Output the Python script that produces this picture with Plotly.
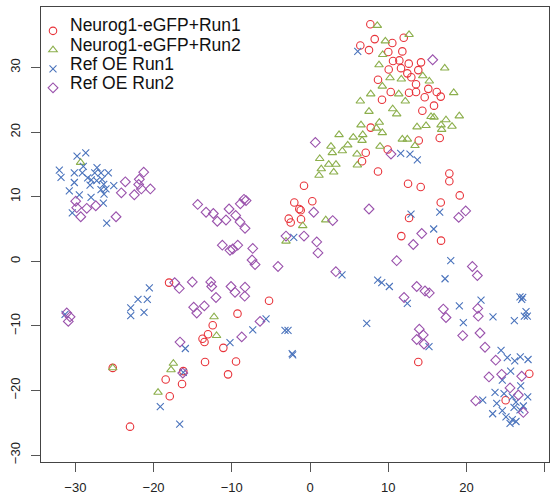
import plotly.graph_objects as go

# ---- data ----
series_names = ["Neurog1-eGFP+Run1", "Neurog1-eGFP+Run2", "Ref OE Run1", "Ref OE Run2"]

red_x = [7.71, 8.27, 6.43, 7.54, 10.52, 11.98, 10.01, 11.80, 10.61, 11.42, 12.62, 14.19, 10.06, 11.63, 13.84,
         12.44, 12.95, 8.69, 13.55, 10.32, 12.66, 13.55, 15.12, 16.20, 16.71, 14.66, 9.20, 15.85, 14.36, 7.76,
         16.58, 13.90, 9.93, 7.12, 6.65, 8.69, 17.81, 17.81, -0.77, 12.53, 14.15, 19.14, -2.01, 0.29, -1.37,
         -1.19, 16.71, -1.15, -2.72, -2.47, 12.66, 11.67, 16.75, -18.02, -5.24, -9.27, -12.44, -13.04, -13.74,
         -13.49, -11.08, -13.42, -9.46, -16.20, -10.48, -18.45, -16.36, -17.93, -23.01, -25.22, 13.84, 28.03, 25.01]
red_y = [36.7, 34.4, 33.4, 32.7, 33.8, 34.6, 32.4, 32.5, 31.0, 31.1, 30.6, 30.8, 29.7, 29.9, 29.6,
         29.1, 28.5, 28.1, 27.4, 26.2, 26.1, 26.2, 26.7, 26.2, 25.5, 25.4, 25.0, 24.1, 23.3, 20.7,
         19.1, 18.7, 17.3, 16.8, 15.5, 13.9, 13.6, 12.4, 11.7, 12.0, 11.5, 10.2, 9.1, 9.3, 8.1,
         7.9, 9.1, 6.5, 6.6, 6.0, 6.7, 3.9, 3.2, -3.3, -6.1, -8.1, -9.9, -11.3, -12.0,
         -12.5, -13.4, -15.6, -15.5, -17.0, -17.5, -18.3, -19.0, -20.9, -25.6, -16.5, -15.6, -17.4, -21.5]

green_x = [8.60, 9.63, 12.66, 9.29, 8.82, 17.22, 14.41, 10.23, 11.67, 15.25, 9.24, 7.76, 11.34, 18.37, 6.43,
           12.18, 10.57, 7.54, 11.08, 15.47, 15.85, 19.08, 17.38, 16.75, 14.83, 13.68, 18.15, 6.52, 8.86, 8.48,
           9.24, 16.83, 3.71, 5.53, 6.74, 6.65, 2.68, 4.82, 8.95, 11.80, 12.44, 13.42, 2.85, 4.13, 1.24,
           6.01, 2.39, 3.32, 1.44, 3.03, 1.15, 6.05, 2.01, -0.93, -3.07, -29.33, -12.27, -11.95, -17.47,
           -17.77, -19.43, -25.22]
green_y = [36.5, 34.1, 35.1, 32.0, 30.4, 29.9, 28.7, 28.4, 28.2, 27.9, 27.1, 25.9, 25.9, 26.1, 24.8,
           24.8, 23.6, 23.2, 22.8, 22.4, 22.3, 22.5, 21.9, 21.1, 21.0, 20.8, 20.9, 21.1, 21.5, 20.6,
           19.9, 20.4, 19.6, 19.2, 19.6, 18.7, 17.8, 18.0, 17.8, 18.9, 18.9, 17.9, 16.8, 17.1, 15.9,
           16.6, 15.0, 15.0, 14.3, 13.8, 13.3, 14.9, 6.4, 5.5, 3.1, 15.3, -8.6, -11.5, -15.8,
           -16.8, -20.3, -16.5]

blue_x = [6.10, 11.59, 12.78, 13.72, 12.91, 16.58, 15.81, -2.08, 17.99,
          -29.78, -28.67, -32.05, -31.83, -30.13, -28.98, -29.11, -27.23, -27.52, -26.72, -25.78, -28.42, -27.96,
          -27.27, -26.59, -30.13, -28.12, -26.37, -25.09, -26.72, -26.08, -30.77, -29.49, -26.33, -27.99, -26.42,
          -30.39, -25.99, -31.32,
          -20.54, -21.99, -20.80, -22.92, -22.92, -21.22, -5.62, -7.32, -3.20, -2.81, -10.23, -15.94, -2.21,
          -2.28, -16.20, -19.14, -16.66,
          4.09, 8.65, 9.17, 10.14, 17.26, 12.44, 7.25, 15.21, 19.09, 21.86, 19.60, 23.39, 26.12, 26.84, 27.06,
          27.19, 27.61, 27.78, 27.40, 24.42, 25.22, 26.17, 26.88, 27.87, 25.65, 24.58, 26.93, 23.65, 24.80,
          25.86, 27.83, 22.08, 23.87, 26.33, 27.27, 24.58, 26.08, 23.35, 25.05, 25.86, 25.57, 26.33, 26.84]
blue_y = [32.5, 16.7, 16.6, 15.7, 7.3, 7.6, 5.0, 3.7, 0.1,
          16.3, 16.8, 14.1, 13.0, 13.7, 14.7, 13.7, 14.5, 13.7, 13.7, 13.7, 12.9, 12.6,
          12.5, 12.7, 12.2, 11.8, 11.9, 11.7, 11.1, 11.2, 10.9, 10.3, 10.4, 9.9, 9.0,
          7.5, 5.9, -8.2,
          -4.1, -5.9, -5.9, -7.2, -8.4, -7.9, -8.9, -10.6, -10.7, -10.7, -12.6, -13.5, -14.5,
          -14.3, -17.2, -22.5, -25.2,
          -2.1, -2.9, -3.3, -3.9, -2.7, -6.5, -9.6, -13.2, -6.9, -6.0, -9.5, -8.6, -9.2, -5.5, -5.9,
          -5.6, -7.8, -8.5, -8.5, -13.8, -14.9, -15.4, -14.8, -15.2, -17.0, -18.4, -19.3, -20.3, -20.5,
          -21.0, -21.0, -21.5, -22.0, -21.8, -22.4, -23.1, -22.6, -23.6, -24.1, -24.5, -25.1, -24.8, -23.0]

purple_x = [15.68, 0.68, 10.35, 7.54, 0.47, 2.90, 19.90, 19.01, -3.07, -0.77, 0.86, 1.02, 14.28, 13.20, 11.08,
            20.75, 3.30,
            -29.95, -29.82, -28.54, -27.39, -29.31, -24.80, -23.61, -24.12, -21.26, -21.82, -21.90, -21.56,
            -20.41, -22.46,
            -14.36, -13.29, -12.36, -11.85, -10.74, -10.35, -9.50, -8.91, -8.44, -8.18, -8.95, -8.31, -11.21,
            -10.23, -9.88, -9.24, -7.32, -7.41, -7.03, -4.09,
            -16.71, -17.30, -15.05, -12.69, -12.57, -12.02, -10.10, -9.59, -8.31, -8.35, -13.51, -14.87, -14.48,
            -6.39, -8.73, -16.62, -16.27,
            -31.10, -30.68, -30.90,
            21.39, 13.64, 14.70, 15.25, 12.02, 17.04, 17.38, 21.44, 21.51, 13.97, 14.48, 13.64, 14.57, 19.52,
            21.73, 22.37, 23.74, 22.88, 24.50, 27.06, 25.57, 26.63, 21.18, 27.27]
purple_y = [31.2, 18.4, 16.6, 8.1, 7.6, 6.3, 7.8, 6.8, 3.9, 3.9, 3.0, 1.3, 4.3, 2.6, 0.1,
            -0.8, -1.6,
            9.3, 8.3, 8.2, 8.6, 6.9, 6.9, 12.3, 10.6, 13.8, 12.7, 11.9, 11.2,
            11.2, 10.3,
            8.8, 7.6, 7.4, 6.2, 6.4, 8.1, 7.1, 8.9, 9.6, 9.4, 6.1, 5.1, 2.5,
            1.7, 1.9, 2.5, 2.0, 0.2, -0.5, -0.8,
            -4.2, -3.3, -3.2, -3.2, -3.9, -5.6, -3.9, -4.8, -4.0, -5.4, -6.9, -7.1, -8.0,
            -9.3, -11.7, -12.5, -17.3,
            -8.0, -8.6, -9.3,
            -2.2, -3.9, -4.6, -4.9, -5.6, -7.4, -8.7, -7.3, -8.5, -10.5, -11.4, -12.1, -12.8, -11.5,
            -11.1, -13.3, -15.3, -17.9, -17.5, -17.8, -19.6, -20.7, -21.6, -23.4]

x_ticks = [-30, -20, -10, 0, 10, 20, 30]
y_ticks = [-30, -20, -10, 0, 10, 20, 30]

# ---- styles ----
colors = ["#E8333A", "#8CAF4C", "#4A73BC", "#9A52AC"]
symbols = ["circle-open", "triangle-up-open", "x-thin-open", "diamond-open"]
sizes = [7.5, 7.5, 7, 7.5]
FONT = "Liberation Sans, Arial, sans-serif"

fig = go.Figure()
for name, xs, ys, c, s, sz in zip(series_names, [red_x, green_x, blue_x, purple_x],
                                  [red_y, green_y, blue_y, purple_y], colors, symbols, sizes):
    fig.add_trace(go.Scatter(
        x=xs, y=ys, mode="markers", name=name, showlegend=False, legendgroup=name,
        marker=dict(symbol=s, size=sz, color=c, line=dict(color=c, width=1.1)),
    ))

# legend symbols (legend-only entries, text placed as annotations for tight R-like spacing)
for name, c, s, sz in zip(series_names, colors, symbols, sizes):
    fig.add_trace(go.Scatter(
        x=[None], y=[None], mode="markers", name=" ", legendgroup=name, showlegend=True,
        marker=dict(symbol=s, size=sz, color=c, line=dict(color=c, width=1.1)),
        hoverinfo="skip",
    ))

legend_rows_px = [25.0, 44.5, 64.0, 83.3]
plot_top, plot_bottom = 7, 462
for name, py in zip(series_names, legend_rows_px):
    fig.add_annotation(
        text=name, xref="paper", yref="paper",
        x=(68 - 41) / 508, y=(plot_bottom - py) / (plot_bottom - plot_top),
        xanchor="left", yanchor="middle", showarrow=False,
        font=dict(family=FONT, size=17.5, color="#111111"),
    )

axis_common = dict(
    showgrid=False, zeroline=False, showline=True, mirror=True,
    linecolor="#444444", linewidth=1, ticks="outside", ticklen=9, tickwidth=1,
    tickcolor="#555555", tickfont=dict(family=FONT, size=13, color="#222222"),
)

fig.update_xaxes(range=[-34.39, 30.55], tickvals=x_ticks,
                 ticktext=[("\u2212%d" % -v) if v < 0 else str(v) for v in x_ticks],
                 ticklabelstandoff=4, **axis_common)
fig.update_yaxes(range=[-31.07, 39.37], tickvals=y_ticks,
                 ticktext=[("\u2212%d" % -v) if v < 0 else str(v) for v in y_ticks],
                 tickangle=-90, ticklabelstandoff=6, **axis_common)

fig.update_layout(
    width=551, height=500,
    margin=dict(l=41, r=2, t=7, b=38),
    paper_bgcolor="white", plot_bgcolor="white",
    showlegend=True,
    legend=dict(
        x=(33 - 41) / 508, y=0.9795, xanchor="left", yanchor="top",
        bgcolor="rgba(0,0,0,0)", borderwidth=0,
        font=dict(family=FONT, size=9, color="#111111"),
        tracegroupgap=0, itemsizing="trace", itemclick=False, itemdoubleclick=False,
    ),
)

fig.write_html("out.html")
